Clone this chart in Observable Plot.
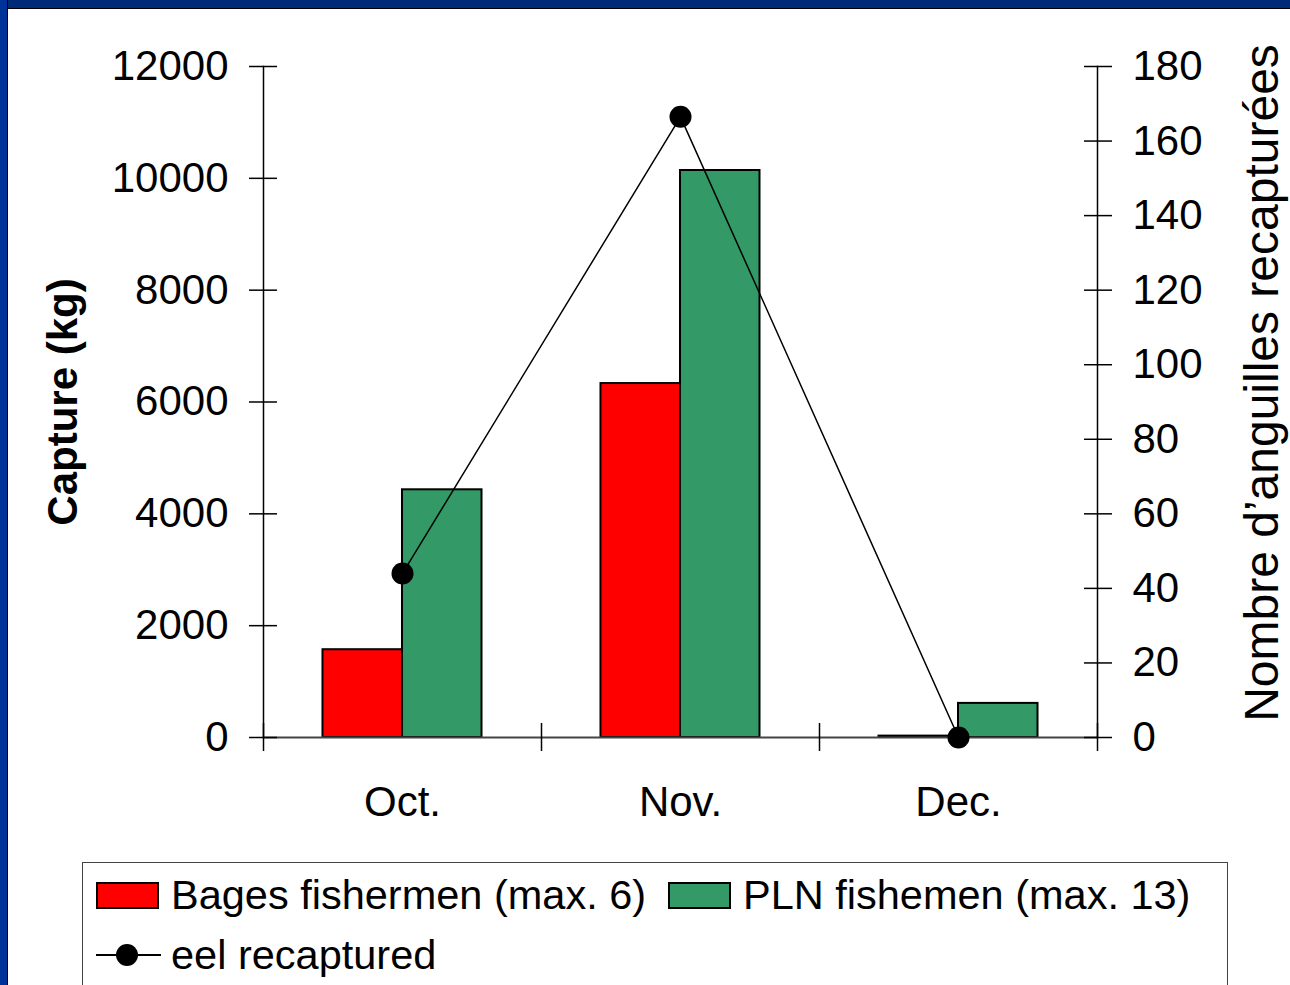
<!DOCTYPE html>
<html>
<head>
<meta charset="utf-8">
<script src="https://cdn.jsdelivr.net/npm/d3@7"></script>
<script src="https://cdn.jsdelivr.net/npm/@observablehq/plot@0.6"></script>
<style>
  html, body { margin: 0; padding: 0; background: #fff; }
  body { width: 1290px; height: 985px; overflow: hidden; position: relative; font-family: "Liberation Sans", Arial, sans-serif; }
  #frameTop { position: absolute; left: 0; top: 0; width: 1290px; height: 8px; background: #002a78; border-bottom: 1px solid #000; }
  #frameLeft { position: absolute; left: 0; top: 0; width: 7px; height: 985px; background: #003399; border-right: 1px solid #000; }
  #chart { position: absolute; left: 0; top: 0; }
  #legend { position: absolute; left: 82px; top: 862px; width: 1144px; height: 140px; border: 1.5px solid #444; background: #fff; }
  .sw { position: absolute; width: 59px; height: 23px; border: 2px solid #000; }
  .lt { position: absolute; font-size: 41.5px; line-height: 42px; color: #000; white-space: nowrap; }
</style>
</head>
<body>
<div id="chart"></div>
<div id="frameTop"></div>
<div id="frameLeft"></div>
<div id="legend"></div>
<script>
// ---- data ----
const months = ["Oct.", "Nov.", "Dec."];
const bagesKg = [1570, 6330, 25];
const plnKg = [4430, 10140, 610];
const eelRecaptured = [44, 166.5, 0];
const leftTicks = [0, 2000, 4000, 6000, 8000, 10000, 12000];
const rightTicks = [0, 20, 40, 60, 80, 100, 120, 140, 160, 180];
const seriesNames = ["Bages fishermen (max. 6)", "PLN fishemen (max. 13)", "eel recaptured"];
const seriesColors = ["#ff0000", "#339966", "#000000"];
const leftTitle = "Capture (kg)";
const rightTitle = "Nombre d\u2019anguilles recapturées";

// right axis mapped onto left scale
const k = 12000 / 180;

const rows = months.map((m, i) => ({month: m, bages: bagesKg[i], pln: plnKg[i], eel: eelRecaptured[i]}));

const W = 1290, H = 850;
const mL = 263, mR = 193, mT = 66, mB = 113;
const band = (W - mL - mR) / months.length;
const barW = band * 0.286;
const inset = (band - barW) / 2;

const font = "'Liberation Sans', Arial, sans-serif";

const plot = Plot.plot({
  width: W,
  height: H,
  marginLeft: mL,
  marginRight: mR,
  marginTop: mT,
  marginBottom: mB,
  style: {fontFamily: font, fontSize: "42px", background: "transparent", color: "#000"},
  x: {type: "band", domain: months, padding: 0, axis: null},
  y: {domain: [0, 12000], axis: null},
  marks: [
    // bars
    Plot.barY(rows, {x: "month", y: "bages", fill: seriesColors[0], stroke: "#000", strokeWidth: 2, insetLeft: inset, insetRight: inset, dx: -barW / 2}),
    Plot.barY(rows, {x: "month", y: "pln", fill: seriesColors[1], stroke: "#000", strokeWidth: 2, insetLeft: inset, insetRight: inset, dx: barW / 2}),
    // x baseline
    Plot.ruleY([0], {stroke: "#444", strokeWidth: 2}),
    // vertical axis lines
    Plot.frame({anchor: "left", stroke: "#000", strokeWidth: 1.5}),
    Plot.frame({anchor: "right", stroke: "#000", strokeWidth: 1.5}),
    // category boundary ticks
    Plot.ruleX(months, {x: d => d, dx: -band / 2, insetTop: H - mT - mB - 14, insetBottom: -14, stroke: "#000", strokeWidth: 1.5}),
    Plot.ruleX([months[months.length - 1]], {x: d => d, dx: band / 2, insetTop: H - mT - mB - 14, insetBottom: -14, stroke: "#000", strokeWidth: 1.5}),
    // left axis
    Plot.axisY(leftTicks, {anchor: "left", tickSize: 28, dx: 14, tickPadding: 21, fontSize: 42, label: null, stroke: "#000", strokeWidth: 1.5, tickFormat: v => String(v)}),
    // right axis
    Plot.axisY(rightTicks.map(v => v * k), {anchor: "right", tickSize: 28, dx: -14, tickPadding: 21, fontSize: 42, label: null, stroke: "#000", strokeWidth: 1.5, tickFormat: v => String(Math.round(v / k))}),
    // month labels
    Plot.text(rows, {x: "month", frameAnchor: "bottom", text: "month", dy: 78, fontSize: 42, fill: "#000"}),
    // line + dots
    Plot.line(rows, {x: "month", y: d => d.eel * k, stroke: "#000", strokeWidth: 1.5}),
    Plot.dot(rows, {x: "month", y: d => d.eel * k, r: 11, fill: "#000", stroke: "none"}),
    // titles
    Plot.text([leftTitle], {frameAnchor: "left", textAnchor: "middle", lineAnchor: "middle", text: d => d, rotate: -90, dx: -200, fontWeight: "bold", fontSize: 42, fill: "#000"}),
    Plot.text([rightTitle], {frameAnchor: "right", textAnchor: "middle", lineAnchor: "middle", text: d => d, rotate: -90, dx: 165, dy: -19, fontSize: 48, fill: "#000"})
  ]
});
document.getElementById("chart").appendChild(plot);

// ---- legend ----
const lg = document.getElementById("legend");
const ox = 82, oy = 862;
function add(html, cls, x, y, extra) {
  const el = document.createElement("div");
  el.className = cls;
  el.style.left = (x - ox) + "px";
  el.style.top = (y - oy) + "px";
  if (html) el.textContent = html;
  if (extra) Object.assign(el.style, extra);
  lg.appendChild(el);
  return el;
}
add(null, "sw", 95, 881, {background: seriesColors[0]});
add(seriesNames[0], "lt", 170, 873);
add(null, "sw", 667, 881, {background: seriesColors[1]});
add(seriesNames[1], "lt", 742, 873);
add(null, "", 95, 953, {position: "absolute", width: "65px", height: "2px", background: "#000"});
add(null, "", 115, 943, {position: "absolute", width: "22px", height: "22px", borderRadius: "50%", background: "#000"});
add(seriesNames[2], "lt", 170, 933);
</script>
</body>
</html>
